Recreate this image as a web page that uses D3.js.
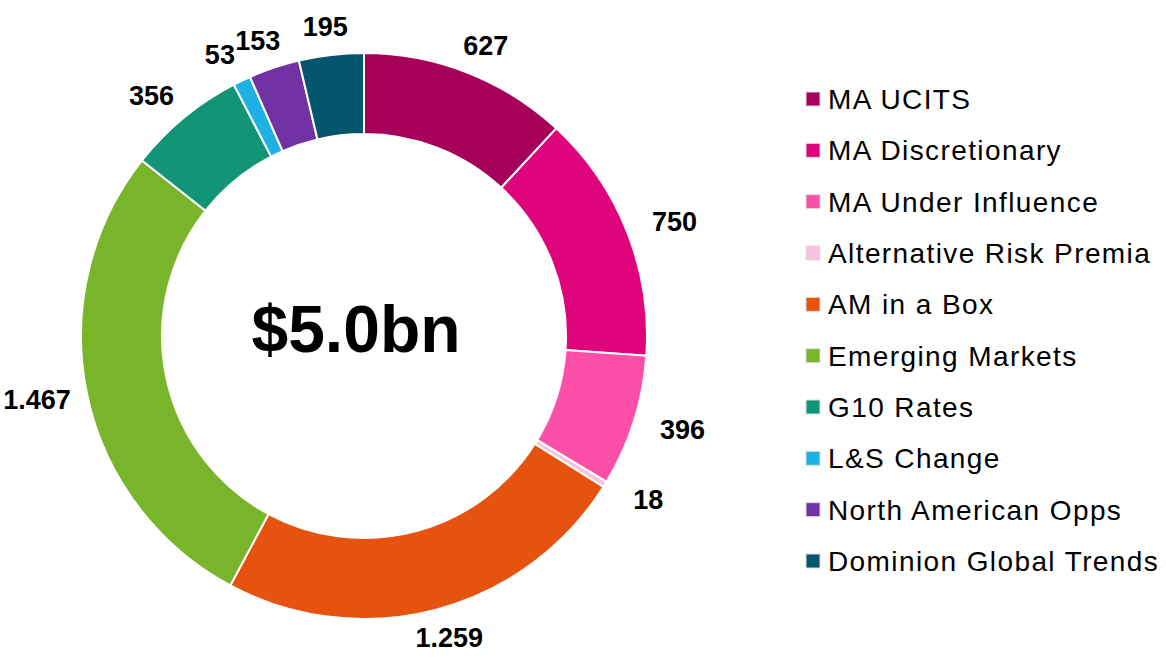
<!DOCTYPE html>
<html>
<head>
<meta charset="utf-8">
<script src="https://cdn.jsdelivr.net/npm/d3@7"></script>
<style>
  body { margin: 0; background: #fff; }
  svg { display: block; font-family: "Liberation Sans", Arial, sans-serif; }
</style>
</head>
<body>
<div class="chart"></div>
<script>
// Data
var categories = ['MA UCITS', 'MA Discretionary', 'MA Under Influence', 'Alternative Risk Premia',
  'AM in a Box', 'Emerging Markets', 'G10 Rates', 'L&S Change', 'North American Opps', 'Dominion Global Trends'];
var values = [627, 750, 396, 18, 1259, 1467, 356, 53, 153, 195];
var totalLabel = '$5.0bn';

// Colors
var COLORS = ['#a6005a', '#e0047c', '#fc50a8', '#f7c3de', '#e5530f', '#78b52b', '#129477', '#1db2e3', '#7332a3', '#04566e'];

var w = 1166;
var h = 659;
var cx = 364;
var cy = 336;
var outerR = 283;
var innerR = 202;
// labels sit on a slightly flattened ring outside the donut
var labelRx = 334;
var labelRy = 312;

var fmt = d3.formatLocale({ decimal: ',', thousands: '.', grouping: [3], currency: ['$', ''] }).format(',d');

var svg = d3.select('.chart')
  .append('svg')
  .attr('width', w)
  .attr('height', h);

var pie = d3.pie().sort(null).value(function(d) { return d; });
var arcs = pie(values);

var arc = d3.arc().innerRadius(innerR).outerRadius(outerR);

var g = svg.append('g')
  .attr('transform', 'translate(' + cx + ',' + cy + ')');

// Slices
g.selectAll('path')
  .data(arcs)
  .enter()
  .append('path')
  .attr('d', arc)
  .attr('fill', function(d, i) { return COLORS[i]; })
  .attr('stroke', '#fff')
  .attr('stroke-width', 2);

// Value labels
g.selectAll('text.val')
  .data(arcs)
  .enter()
  .append('text')
  .attr('class', 'val')
  .attr('transform', function(d) {
    var a = (d.startAngle + d.endAngle) / 2;
    return 'translate(' + (labelRx * Math.sin(a)) + ',' + (-labelRy * Math.cos(a)) + ')';
  })
  .attr('text-anchor', 'middle')
  .attr('dy', '0.35em')
  .style('font-size', '27px')
  .style('font-weight', 'bold')
  .text(function(d) { return fmt(d.data); });

// Center total
g.append('text')
  .attr('x', -8)
  .attr('y', 16)
  .attr('text-anchor', 'middle')
  .style('font-size', '66px')
  .style('font-weight', 'bold')
  .text(totalLabel);

// Legend
var legendY = d3.scalePoint()
  .domain(categories)
  .range([99, 561]);

var legend = svg.append('g')
  .attr('class', 'legend')
  .selectAll('g')
  .data(categories)
  .enter()
  .append('g')
  .attr('transform', function(d) { return 'translate(806,' + legendY(d) + ')'; });

legend.append('rect')
  .attr('x', 0)
  .attr('y', -7)
  .attr('width', 14)
  .attr('height', 14)
  .attr('fill', function(d, i) { return COLORS[i]; })
  .attr('stroke', '#ddd')
  .attr('stroke-width', 1);

legend.append('text')
  .attr('x', 22)
  .attr('dy', '0.36em')
  .style('font-size', '28px')
  .style('letter-spacing', '1.4px')
  .text(function(d) { return d; });
</script>
</body>
</html>
